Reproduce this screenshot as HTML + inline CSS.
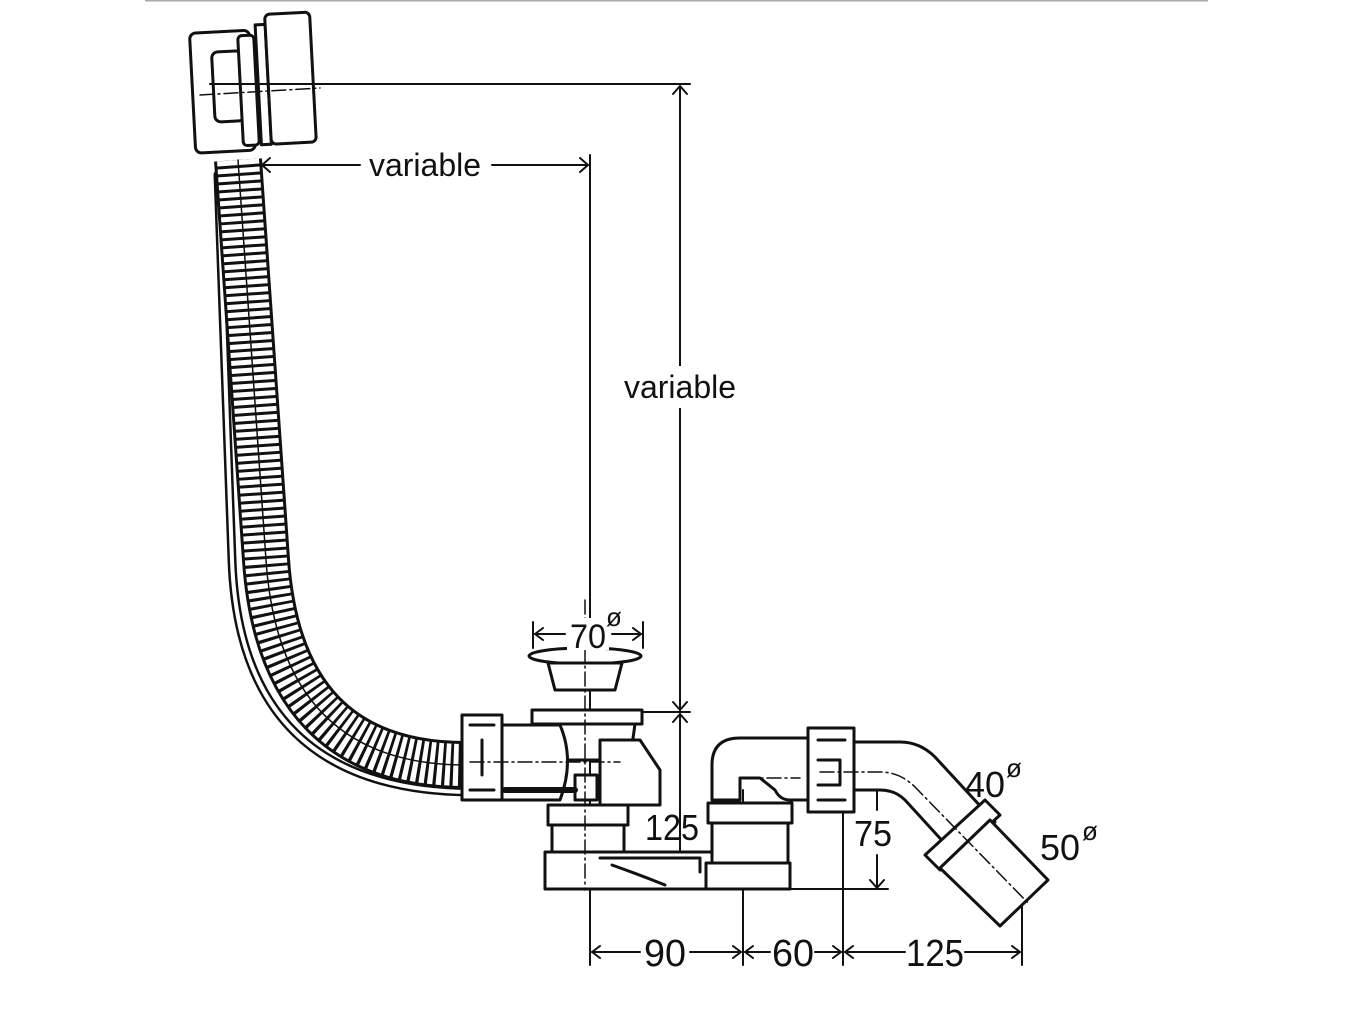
<!DOCTYPE html>
<html><head><meta charset="utf-8"><style>
html,body{margin:0;padding:0;background:#fff;}
svg{display:block;}
text{font-family:"Liberation Sans",sans-serif;fill:#111;}
</style></head><body>
<svg width="1352" height="1014" viewBox="0 0 1352 1014" xmlns="http://www.w3.org/2000/svg">
<line x1="145" y1="0.5" x2="1208" y2="0.5" stroke="#aaa" stroke-width="2"/>
<g fill="none" stroke="#111" stroke-linecap="round" stroke-linejoin="round">
<!-- cable -->
<path d="M218 175 L232 560 Q240 790 470 792" stroke-width="9"/>
<path d="M218 175 L232 560 Q240 790 470 792" stroke="#fff" stroke-width="4"/>
<!-- hose -->
<path d="M238 160 L266 560 Q280 765 466 765" stroke-width="48" stroke-linecap="butt"/>
<path d="M238 160 L266 560 Q280 765 466 765" stroke="#fff" stroke-width="42" stroke-dasharray="5 3" stroke-linecap="butt"/>
<path d="M238 160 L266 560 Q280 765 466 765" stroke-width="1.5"/>
<!-- overflow head -->
<g transform="rotate(-3 255 80)" stroke-width="3">
<rect x="192" y="30" width="60" height="120" rx="6" fill="#fff"/>
<rect x="213" y="50" width="30" height="70" rx="6" fill="#fff"/>
<rect x="240" y="35" width="16" height="110" rx="4" fill="#fff"/>
<rect x="258" y="25" width="10" height="120" fill="#fff"/>
<rect x="268" y="15" width="45" height="130" rx="5" fill="#fff"/>
</g>
<!-- dimension lines -->
<g stroke-width="2">
<line x1="210" y1="84" x2="690" y2="84"/>
<line x1="680" y1="86" x2="680" y2="712"/>
<line x1="590" y1="155" x2="590" y2="965"/>
<line x1="262" y1="165" x2="360" y2="165"/><line x1="492" y1="165" x2="588" y2="165"/>
<path d="M270 158 L262 165 L270 172 M580 158 L588 165 L580 172"/>
<path d="M673 94 L680 86 L687 94 M673 702 L680 710 L687 702 M673 722 L680 714 L687 722 M673 880 L680 888 L687 880"/>
<line x1="680" y1="714" x2="680" y2="888"/>
<line x1="628" y1="712" x2="690" y2="712"/>
<line x1="533" y1="622" x2="533" y2="648"/><line x1="643" y1="622" x2="643" y2="648"/>
<line x1="535" y1="634" x2="565" y2="634"/><line x1="612" y1="634" x2="641" y2="634"/>
<path d="M543 628 L535 634 L543 640 M633 628 L641 634 L633 640"/>
<line x1="545" y1="889" x2="888" y2="889"/>
<line x1="877" y1="774" x2="877" y2="810"/><line x1="877" y1="855" x2="877" y2="888"/>
<path d="M870 782 L877 774 L884 782 M870 880 L877 888 L884 880"/>
<line x1="743" y1="790" x2="743" y2="965"/>
<line x1="843" y1="790" x2="843" y2="965"/>
<line x1="1022" y1="900" x2="1022" y2="965"/>
<line x1="592" y1="952" x2="640" y2="952"/><line x1="690" y1="952" x2="741" y2="952"/>
<line x1="745" y1="952" x2="770" y2="952"/><line x1="815" y1="952" x2="841" y2="952"/>
<line x1="845" y1="952" x2="905" y2="952"/><line x1="965" y1="952" x2="1020" y2="952"/>
<path d="M600 946 L592 952 L600 958 M733 946 L741 952 L733 958 M753 946 L745 952 L753 958 M833 946 L841 952 L833 958 M853 946 L845 952 L853 958 M1012 946 L1020 952 L1012 958"/>
</g>
<!-- waste body -->
<g stroke-width="3" fill="#fff">
<ellipse cx="585" cy="656" rx="56" ry="8"/>
<path d="M548 663 L622 663 L615 690 L555 690 Z"/>
<rect x="532" y="710" width="110" height="14"/>
<path d="M540 724 L635 724 L630 760 L545 760 Z"/>
<path d="M500 725 L560 725 Q575 760 560 800 L500 800 Z"/>
<path d="M600 740 L640 740 L660 770 L660 805 L600 805 Z"/>
<rect x="462" y="715" width="40" height="85"/>
<path d="M470 725 L494 725 M470 790 L494 790 M482 740 L482 775"/>
<rect x="548" y="805" width="80" height="20"/>
<rect x="552" y="825" width="72" height="28"/>
<rect x="545" y="852" width="243" height="37"/>
<path d="M600 858 L700 858 L700 872 M612 865 Q640 875 665 885" fill="none"/>
<rect x="575" y="775" width="22" height="25"/>
<path d="M505 790 L575 790" stroke-width="6"/>
<!-- trap -->
<path d="M712 800 L712 765 Q712 738 740 738 L808 738 L808 800 L790 800 Q780 800 775 790 L760 778 L740 778 L740 800 Z"/>
<rect x="708" y="803" width="84" height="20"/>
<rect x="712" y="823" width="76" height="40"/>
<rect x="706" y="863" width="84" height="26"/>
<rect x="808" y="728" width="46" height="84"/>
<path d="M818 740 L845 740 M818 800 L845 800 M818 760 L840 760 L840 785 L818 785" fill="none"/>
<path d="M854 742 L900 742 Q920 742 935 757 L995 822 L958 858 L905 800 Q895 790 880 790 L854 790 Z"/>
<path d="M925 855 L985 800 L1000 815 L940 870 Z"/>
<path d="M940 868 L990 820 L1048 880 L1000 926 Z"/>
</g>
<g stroke-width="1.5" stroke-dasharray="14 4 2 4">
<line x1="585" y1="600" x2="585" y2="890"/>
<line x1="470" y1="762" x2="620" y2="762"/>
<line x1="743" y1="778" x2="800" y2="778"/>
<path d="M820 772 L880 772 Q900 772 915 787 L1030 905"/>
<line x1="200" y1="95" x2="320" y2="88"/>
</g>
</g>
<rect x="616" y="366" width="128" height="42" fill="#fff"/>
<rect x="567" y="618" width="42" height="32" fill="#fff"/>
<text x="425" y="176" font-size="32" text-anchor="middle">variable</text>
<text x="680" y="398" font-size="32" text-anchor="middle">variable</text>
<text x="588" y="648" font-size="34" text-anchor="middle" textLength="36" lengthAdjust="spacingAndGlyphs">70</text>
<text x="606" y="626" font-size="26">ø</text>
<text x="672" y="840" font-size="36" text-anchor="middle" textLength="54" lengthAdjust="spacingAndGlyphs">125</text>
<text x="873" y="846" font-size="36" text-anchor="middle" textLength="38" lengthAdjust="spacingAndGlyphs">75</text>
<text x="985" y="797" font-size="36" text-anchor="middle" textLength="40" lengthAdjust="spacingAndGlyphs">40</text>
<text x="1006" y="777" font-size="26">ø</text>
<text x="1060" y="860" font-size="36" text-anchor="middle" textLength="40" lengthAdjust="spacingAndGlyphs">50</text>
<text x="1082" y="840" font-size="26">ø</text>
<text x="665" y="966" font-size="38" text-anchor="middle" textLength="42" lengthAdjust="spacingAndGlyphs">90</text>
<text x="793" y="966" font-size="38" text-anchor="middle" textLength="42" lengthAdjust="spacingAndGlyphs">60</text>
<text x="935" y="966" font-size="38" text-anchor="middle" textLength="58" lengthAdjust="spacingAndGlyphs">125</text>
</svg>
</body></html>
